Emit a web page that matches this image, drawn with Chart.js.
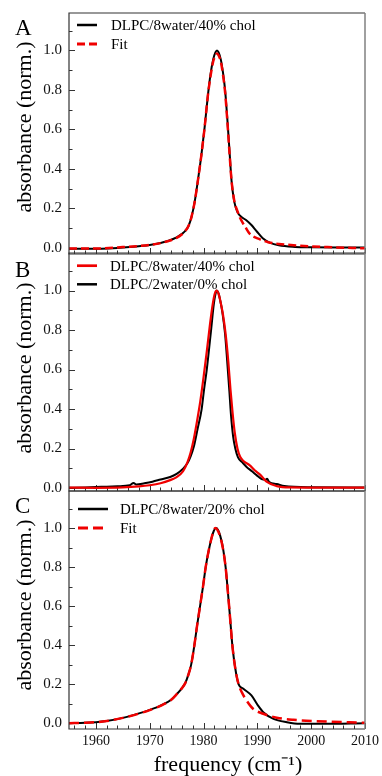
<!DOCTYPE html>
<html>
<head>
<meta charset="utf-8">
<script src="https://cdn.jsdelivr.net/npm/chart.js@4.4.1/dist/chart.umd.min.js"></script>
<style>
  html, body { margin: 0; padding: 0; background: #fff; width: 382px; height: 776px; overflow: hidden; }
  .panel { position: absolute; left: 0; width: 382px; }
</style>
</head>
<body>
<div class="panel" style="top:0;height:256px"><canvas id="chartA"></canvas></div>
<div class="panel" style="top:240px;height:253px"><canvas id="chartB"></canvas></div>
<div class="panel" style="top:478px;height:298px"><canvas id="chartC"></canvas></div>
<script>
// --- data (frequency in cm-1, normalized absorbance) ---

// A: DLPC/8water/40% chol + fit
const freqA = [1955, 1958, 1961, 1964, 1967, 1970, 1972, 1973.5, 1975, 1976, 1976.6, 1977.2, 1977.8, 1978.4, 1979, 1979.6, 1980.2, 1980.8, 1981.3, 1981.8, 1982.2, 1982.5, 1982.8, 1983.2, 1983.6, 1984, 1984.4, 1984.8, 1985.2, 1985.7, 1986.3, 1987.1, 1988, 1988.9, 1989.9, 1991, 1992.3, 1994, 1997, 2000, 2005, 2010];
const absA = [-0.005, -0.006, -0.005, -0.001, 0.005, 0.014, 0.024, 0.035, 0.052, 0.07, 0.085, 0.11, 0.16, 0.24, 0.35, 0.47, 0.61, 0.77, 0.88, 0.955, 0.99, 1.0, 0.99, 0.955, 0.89, 0.8, 0.66, 0.5, 0.34, 0.235, 0.18, 0.155, 0.138, 0.115, 0.082, 0.048, 0.026, 0.012, 0.004, 0.002, 0.001, 0.001];
const freqAFit = [1955, 1960, 1965, 1970, 1972, 1973.5, 1975, 1976, 1976.6, 1977.2, 1977.8, 1978.4, 1979, 1979.6, 1980.2, 1980.8, 1981.3, 1981.8, 1982.2, 1982.5, 1982.8, 1983.2, 1983.6, 1984, 1984.4, 1984.8, 1985.2, 1985.7, 1986.3, 1986.8, 1987.3, 1987.7, 1988.6, 1990.5, 1992, 1994, 1998, 2003, 2010];
const absAFit = [-0.004, -0.004, 0.003, 0.014, 0.023, 0.034, 0.05, 0.068, 0.085, 0.11, 0.16, 0.24, 0.35, 0.47, 0.61, 0.77, 0.87, 0.945, 0.975, 0.985, 0.975, 0.945, 0.88, 0.79, 0.65, 0.49, 0.34, 0.24, 0.185, 0.15, 0.125, 0.108, 0.07, 0.042, 0.028, 0.019, 0.01, 0.003, -0.003];

// B: DLPC/8water/40% chol vs DLPC/2water/0% chol
const freqB40 = [1955, 1960, 1965, 1968, 1970, 1972, 1973.8, 1975, 1976.2, 1977, 1977.6, 1978.2, 1978.8, 1979.4, 1980, 1980.6, 1981.2, 1981.7, 1982.1, 1982.4, 1982.7, 1983.1, 1983.6, 1984.1, 1984.6, 1985, 1985.4, 1985.8, 1986.3, 1986.8, 1987.5, 1988.6, 1989.5, 1990.5, 1991.7, 1993.6, 1996, 2003, 2010];
const absB40 = [0.002, 0.001, 0.003, 0.008, 0.014, 0.024, 0.04, 0.055, 0.085, 0.13, 0.18, 0.25, 0.34, 0.44, 0.56, 0.69, 0.83, 0.93, 0.985, 1.0, 0.99, 0.95, 0.88, 0.78, 0.64, 0.5, 0.38, 0.28, 0.2, 0.158, 0.135, 0.115, 0.09, 0.068, 0.032, 0.01, 0.003, 0.002, 0.002];
const freqB0 = [1955, 1958, 1961, 1964, 1966.3, 1967, 1967.5, 1969, 1970.5, 1972, 1973.8, 1975, 1976.2, 1977, 1977.6, 1978.2, 1978.9, 1979.65, 1980.1, 1980.6, 1981.4, 1981.9, 1982.2, 1982.5, 1982.8, 1983.1, 1983.5, 1984, 1984.4, 1984.8, 1985.1, 1985.5, 1985.9, 1986.4, 1987.2, 1988, 1989, 1989.9, 1990.8, 1991.5, 1991.8, 1992.2, 1993.6, 1995, 2000, 2010];
const absB0 = [0.001, 0.003, 0.006, 0.009, 0.014, 0.026, 0.018, 0.024, 0.032, 0.043, 0.056, 0.072, 0.098, 0.125, 0.16, 0.21, 0.3, 0.4, 0.5, 0.6, 0.8, 0.93, 0.98, 1.0, 0.985, 0.95, 0.89, 0.78, 0.64, 0.49, 0.37, 0.26, 0.2, 0.155, 0.13, 0.107, 0.085, 0.064, 0.045, 0.042, 0.047, 0.03, 0.02, 0.01, 0.004, 0.003];

// C: DLPC/8water/20% chol + fit
const freqC = [1955, 1958, 1960, 1962, 1965, 1968, 1970, 1972, 1974, 1975, 1976, 1976.6, 1977.2, 1977.7, 1978.3, 1978.8, 1979.35, 1979.9, 1980.4, 1981, 1981.5, 1981.9, 1982.3, 1982.7, 1983.1, 1983.6, 1984.1, 1984.5, 1984.9, 1985.35, 1985.9, 1986.5, 1987.4, 1988.9, 1990.1, 1991.1, 1993, 1995.5, 1997.9, 2002, 2010];
const absC = [0.0, 0.002, 0.005, 0.011, 0.027, 0.05, 0.068, 0.09, 0.12, 0.148, 0.18, 0.205, 0.25, 0.3, 0.4, 0.5, 0.6, 0.7, 0.8, 0.89, 0.95, 0.985, 1.0, 0.99, 0.96, 0.9, 0.8, 0.68, 0.55, 0.4, 0.28, 0.2, 0.176, 0.142, 0.091, 0.056, 0.022, 0.005, -0.003, -0.003, 0.0];
const freqCFit = [1955, 1958, 1960, 1962, 1965, 1968, 1970, 1972, 1974, 1975, 1976, 1976.6, 1977.2, 1977.7, 1978.3, 1978.8, 1979.35, 1979.9, 1980.4, 1981, 1981.5, 1981.9, 1982.2, 1982.6, 1983.1, 1983.6, 1984.1, 1984.5, 1984.9, 1985.35, 1985.9, 1986.5, 1987.1, 1988, 1989.2, 1991.1, 1993.6, 1996.7, 2001, 2010];
const absCFit = [0.0, 0.002, 0.005, 0.011, 0.027, 0.049, 0.067, 0.089, 0.12, 0.148, 0.18, 0.205, 0.25, 0.3, 0.4, 0.5, 0.6, 0.7, 0.8, 0.89, 0.95, 0.99, 1.0, 0.99, 0.955, 0.895, 0.8, 0.68, 0.55, 0.4, 0.28, 0.2, 0.159, 0.116, 0.074, 0.048, 0.028, 0.017, 0.01, 0.002];

// axes
const xTicks = [1956, 1958, 1960, 1962, 1964, 1966, 1968, 1970, 1972, 1974, 1976, 1978, 1980, 1982, 1984, 1986, 1988, 1990, 1992, 1994, 1996, 1998, 2000, 2002, 2004, 2006, 2008, 2010];
const xLabels = [1960, 1970, 1980, 1990, 2000, 2010];
const yTicks = [0, 0.1, 0.2, 0.3, 0.4, 0.5, 0.6, 0.7, 0.8, 0.9, 1.0, 1.1];
const yLabels = [0, 0.2, 0.4, 0.6, 0.8, 1.0];
const yTitle = 'absorbance (norm.)';
const xTitle = 'frequency (cm⁻¹)';

const SERIF = "'Liberation Serif', 'Times New Roman', serif";
const RED = '#f00000';

const pts = (xs, ys) => xs.map((x, i) => ({ x: x, y: ys[i] }));
const isMajor = (list, v) => list.some(m => Math.abs(m - v) < 1e-6);

// frame, inward ticks, titles, panel letter and legend inside the plot
const panelFrame = {
  id: 'panelFrame',
  beforeDatasetsDraw(chart) {
    const { ctx, chartArea: a, scales: { x, y } } = chart;
    ctx.save();
    ctx.strokeStyle = '#333';
    ctx.lineWidth = 1;
    ctx.beginPath();
    xTicks.forEach(v => {
      const px = Math.round(x.getPixelForValue(v)) + 0.5;
      const len = isMajor(xLabels, v) ? 6 : 3.5;
      ctx.moveTo(px, a.bottom);
      ctx.lineTo(px, a.bottom - len);
    });
    yTicks.forEach(v => {
      const py = Math.round(y.getPixelForValue(v)) + 0.5;
      const len = isMajor(yLabels, v) ? 6 : 3.5;
      ctx.moveTo(a.left, py);
      ctx.lineTo(a.left + len, py);
    });
    ctx.stroke();
    ctx.restore();
  },
  afterDatasetsDraw(chart, args, opts) {
    const { ctx, chartArea: a } = chart;
    ctx.save();
    // box
    ctx.lineWidth = 1.2;
    ctx.strokeStyle = '#333';
    ctx.beginPath();
    ctx.moveTo(a.right, a.top);
    ctx.lineTo(a.left, a.top);
    ctx.lineTo(a.left, a.bottom);
    ctx.lineTo(a.right, a.bottom);
    ctx.stroke();
    ctx.strokeStyle = '#808080';
    ctx.lineWidth = 1.5;
    ctx.beginPath();
    ctx.moveTo(a.right, a.top);
    ctx.lineTo(a.right, a.bottom);
    ctx.stroke();

    ctx.fillStyle = '#000';

    // y title (rotated)
    ctx.save();
    ctx.translate(25, a.top + opts.titleY);
    ctx.rotate(-Math.PI / 2);
    ctx.font = '22px ' + SERIF;
    ctx.textAlign = 'center';
    ctx.textBaseline = 'middle';
    ctx.fillText(yTitle, 0, 0);
    ctx.restore();

    // x title (bottom panel only)
    if (opts.xTitle) {
      ctx.font = '22px ' + SERIF;
      ctx.textAlign = 'center';
      ctx.textBaseline = 'middle';
      ctx.fillText(xTitle, a.left + opts.xTitle[0], a.bottom + opts.xTitle[1]);
    }

    // panel letter
    ctx.font = '23px ' + SERIF;
    ctx.textAlign = 'left';
    ctx.textBaseline = 'alphabetic';
    ctx.fillText(opts.letter, 15, a.top + opts.letterDy);

    // legend
    ctx.font = '15px ' + SERIF;
    ctx.textBaseline = 'middle';
    opts.order.forEach((dsIndex, row) => {
      const ds = chart.data.datasets[dsIndex];
      const ly = a.top + opts.rowY[row];
      ctx.save();
      ctx.strokeStyle = ds.borderColor;
      ctx.lineWidth = ds.borderWidth + 0.5;
      ctx.setLineDash(ds.borderDash || []);
      ctx.beginPath();
      ctx.moveTo(a.left + opts.sample[0], ly);
      ctx.lineTo(a.left + opts.sample[1], ly);
      ctx.stroke();
      ctx.restore();
      ctx.fillText(ds.label, a.left + opts.textX, ly + 1);
    });
    ctx.restore();
  }
};

function makePanel(id, cfg) {
  return new Chart(document.getElementById(id), {
    type: 'line',
    data: { datasets: cfg.datasets },
    plugins: [panelFrame],
    options: {
      responsive: true,
      maintainAspectRatio: false,
      animation: false,
      layout: { padding: { top: 13, right: 17, bottom: cfg.showX ? 0 : 2, left: 0 } },
      elements: {
        point: { radius: 0 },
        line: { cubicInterpolationMode: 'monotone', fill: false }
      },
      plugins: {
        legend: { display: false },
        tooltip: { enabled: false },
        panelFrame: cfg.frame
      },
      scales: {
        x: {
          type: 'linear',
          min: 1955,
          max: 2010,
          display: cfg.showX,
          afterBuildTicks: s => { s.ticks = xLabels.map(v => ({ value: v })); },
          afterFit: s => {
            s.height = cfg.showX ? 47 : 0;
            s.paddingLeft = 0;
            s.paddingRight = 0;
          },
          grid: { display: false, drawTicks: false },
          border: { display: false },
          ticks: {
            autoSkip: false,
            maxRotation: 0,
            padding: 4,
            color: '#111',
            font: { family: SERIF, size: 14 },
            callback: v => String(v)
          }
        },
        y: {
          type: 'linear',
          min: cfg.yMin,
          max: cfg.yMax,
          afterBuildTicks: s => { s.ticks = yLabels.map(v => ({ value: v })); },
          afterFit: s => {
            s.width = 69;
            s.paddingTop = 0;
            s.paddingBottom = 0;
          },
          grid: { display: false, drawTicks: false },
          border: { display: false },
          ticks: {
            padding: 7,
            color: '#111',
            font: { family: SERIF, size: 15 },
            callback: v => v.toFixed(1)
          }
        }
      }
    }
  });
}

makePanel('chartA', {
  showX: false, yMin: -0.032, yMax: 1.19,
  datasets: [
    { label: 'Fit', data: pts(freqAFit, absAFit), borderColor: RED, borderWidth: 2.5, borderDash: [8, 4] },
    { label: 'DLPC/8water/40% chol', data: pts(freqA, absA), borderColor: '#000', borderWidth: 2 }
  ],
  frame: { letter: 'A', letterDy: 22, titleY: 114, order: [1, 0], rowY: [12, 31], sample: [8, 28], textX: 42 }
});

makePanel('chartB', {
  showX: false, yMin: -0.015, yMax: 1.19,
  datasets: [
    { label: 'DLPC/8water/40% chol', data: pts(freqB40, absB40), borderColor: RED, borderWidth: 2.2 },
    { label: 'DLPC/2water/0% chol', data: pts(freqB0, absB0), borderColor: '#000', borderWidth: 2 }
  ],
  frame: { letter: 'B', letterDy: 24, titleY: 115, order: [0, 1], rowY: [12.7, 31.3], sample: [8, 28], textX: 41 }
});

makePanel('chartC', {
  showX: true, yMin: -0.03, yMax: 1.19,
  datasets: [
    { label: 'Fit', data: pts(freqCFit, absCFit), borderColor: RED, borderWidth: 2.5, borderDash: [10, 5] },
    { label: 'DLPC/8water/20% chol', data: pts(freqC, absC), borderColor: '#000', borderWidth: 2 }
  ],
  frame: { letter: 'C', letterDy: 22, titleY: 114, xTitle: [159, 36], order: [1, 0], rowY: [18, 37], sample: [9, 39], textX: 51 }
});
</script>
</body>
</html>
